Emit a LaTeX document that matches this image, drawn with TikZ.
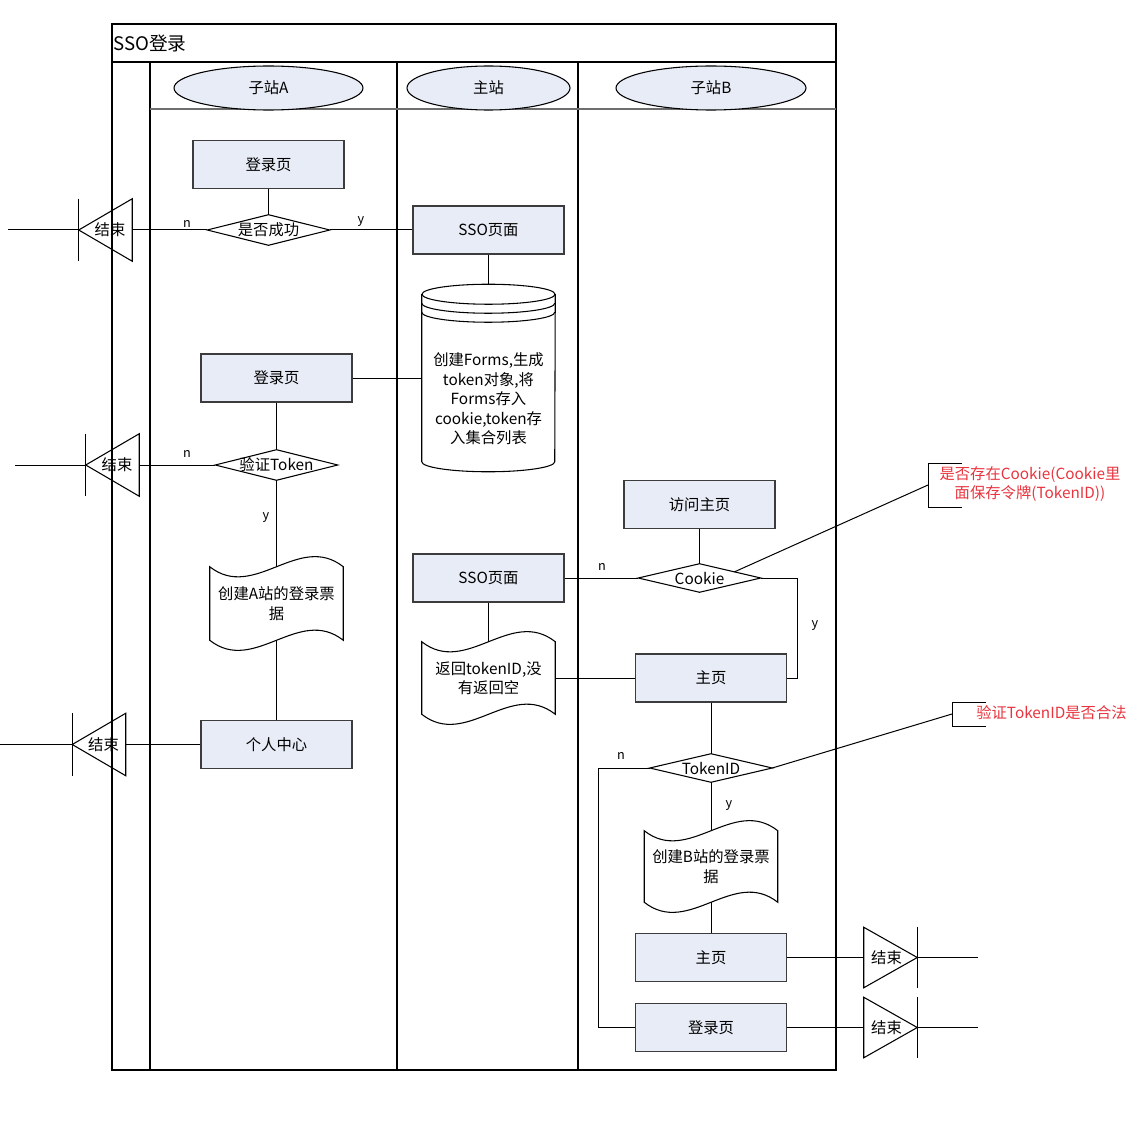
\documentclass[tikz,border=0pt]{standalone}
\usepackage{fontspec}
\setmainfont{Noto Sans CJK SC}
\usetikzlibrary{shapes.geometric,calc}
\definecolor{boxfill}{RGB}{232,236,246}
\definecolor{boxline}{RGB}{60,60,60}
\definecolor{notered}{RGB}{232,52,62}
\definecolor{hdrgray}{RGB}{110,110,110}
\newcommand\wavydoc[1]{%
  \draw[shapeline] (#1.north west) .. controls ($(#1.north west)!1/3!(#1.north east)+(0,35)$) and ($(#1.north west)!2/3!(#1.north east)+(0,-35)$) .. (#1.north east) -- (#1.south east) .. controls ($(#1.south west)!2/3!(#1.south east)+(0,-35)$) and ($(#1.south west)!1/3!(#1.south east)+(0,35)$) .. (#1.south west) -- cycle;}
\newcommand\diamondpath[1]{%
  \draw[shapeline] (#1.west) -- (#1.north) -- (#1.east) -- (#1.south) -- cycle;}
\newcommand\termtriL[1]{%
  \draw[shapeline] (#1.west) -- (#1.north east) -- (#1.south east) -- cycle;
  \draw[conn] (#1.north west) -- (#1.south west);}
\newcommand\termtriR[1]{%
  \draw[shapeline] (#1.east) -- (#1.north west) -- (#1.south west) -- cycle;
  \draw[conn] (#1.north east) -- (#1.south east);}
\begin{document}
\begin{tikzpicture}[x=0.75pt,y=-0.75pt,
  conn/.style={draw=black, line width=0.75pt},
  shapeline/.style={draw=black, line width=0.8pt},
  frame/.style={draw=black, line width=1pt},
  txt/.style={font=\fontsize{11.5}{14.6}\selectfont},
  pbox/.style={rectangle, draw=boxline, fill=boxfill, line width=0.9pt, minimum width=113.25pt, minimum height=36pt, inner sep=0pt, txt},
  hold/.style={rectangle, inner sep=0pt, align=center, txt},
  dsize/.style={minimum width=91.5pt, minimum height=22.5pt},
  tri/.style={minimum width=39.75pt, minimum height=46.5pt},
  trir/.style={minimum width=39.75pt, minimum height=45pt},
  hdr/.style={ellipse, draw=black, fill=boxfill, line width=0.8pt, inner sep=0pt, minimum height=33pt, txt},
  lbl/.style={font=\fontsize{9.5}{11}\selectfont, inner sep=0pt},
  note/.style={text=notered, align=center, inner sep=0pt, txt}]
\useasboundingbox (0,0) rectangle (1130,1123);

% frame and lanes
\draw[frame] (112,24) rectangle (836,1070);
\draw[frame] (112,62) -- (836,62);
\draw[frame] (150,62) -- (150,1070);
\draw[frame] (397,62) -- (397,1070);
\draw[frame] (578,62) -- (578,1070);
\draw[draw=hdrgray, line width=1.3pt] (150,109) -- (836,109);
\node[anchor=west, inner sep=0pt, font=\fontsize{14}{16}\selectfont] (title) at (113,43) {SSO登录};

% lane headers
\node[hdr, minimum width=141.75pt] (hA) at (268.5,88) {子站A};
\node[hdr, minimum width=122.25pt] (hM) at (488.5,88) {主站};
\node[hdr, minimum width=142.5pt] (hB) at (711,88) {子站B};

% process boxes
\node[pbox] (loginA1) at (268.5,164.5) {登录页};
\node[pbox] (ssoM1) at (488.5,230) {SSO页面};
\node[pbox] (loginA2) at (276.5,378) {登录页};
\node[pbox] (personal) at (276.5,744.5) {个人中心};
\node[pbox] (ssoM2) at (488.5,578) {SSO页面};
\node[pbox] (visitB) at (699.5,504.5) {访问主页};
\node[pbox] (homeB1) at (711,678) {主页};
\node[pbox] (homeB2) at (711,957.5) {主页};
\node[pbox] (loginB) at (711,1027.5) {登录页};

% decisions
\node[hold, dsize] (d1) at (268.5,230) {是否成功};
\node[hold, dsize] (d2) at (276.5,465) {验证Token};
\node[hold, dsize, minimum height=21pt] (d3) at (699.5,578) {Cookie};
\node[hold, dsize, minimum height=21pt] (d4) at (711,768) {TokenID};
\diamondpath{d1}
\diamondpath{d2}
\diamondpath{d3}
\diamondpath{d4}

% documents
\node[hold, minimum width=99.75pt, minimum height=54.75pt] (docA) at (276.5,603.5) {创建A站的登录票\\据};
\node[hold, minimum width=99.75pt, minimum height=54pt] (docM) at (488.5,678) {返回tokenID,没\\有返回空};
\node[hold, minimum width=99.75pt, minimum height=53.25pt] (docB) at (711,866.5) {创建B站的登录票\\据};
\wavydoc{docA}
\wavydoc{docM}
\wavydoc{docB}

% database cylinder
\node[hold, minimum width=99.75pt, minimum height=140.25pt] (cyl) at (488.5,378) {};
\draw[shapeline] ($(cyl.north west)+(0,10)$) -- ($(cyl.south west)+(0,-10)$) arc[start angle=180, end angle=360, x radius=49.875pt, y radius=7.5pt] -- ($(cyl.north east)+(0,10)$);
\draw[shapeline] ($(cyl.north)+(0,10)$) ellipse [x radius=49.875pt, y radius=7.5pt];
\draw[shapeline] ($(cyl.north west)+(0,19)$) arc[start angle=180, end angle=360, x radius=49.875pt, y radius=7.5pt];
\draw[shapeline] ($(cyl.north west)+(0,28)$) arc[start angle=180, end angle=360, x radius=49.875pt, y radius=7.5pt];
\node[hold] (cyltxt) at (488.5,399) {创建Forms,生成\\token对象,将\\Forms存入\\cookie,token存\\入集合列表};

% end terminators
\node[hold, tri] (end1) at (105.5,230) {};
\node[hold, tri] (end2) at (112.5,465) {};
\node[hold, tri] (end3) at (99,744.5) {};
\node[hold, trir] (end4) at (890.5,957.5) {};
\node[hold, trir] (end5) at (890.5,1027.5) {};
\termtriL{end1}
\termtriL{end2}
\termtriL{end3}
\termtriR{end4}
\termtriR{end5}
\node[hold] (t1) at (110,230) {结束};
\node[hold] (t2) at (117,465) {结束};
\node[hold] (t3) at (103.5,744.5) {结束};
\node[hold] (t4) at (886.5,957.5) {结束};
\node[hold] (t5) at (886.5,1027.5) {结束};
\coordinate (o1) at (8,230);
\coordinate (o2) at (15,465);
\coordinate (o3) at (0,744.5);
\coordinate (o4) at (978,957.5);
\coordinate (o5) at (978,1027.5);
\draw[conn] (o1) -- (end1.west);
\draw[conn] (o2) -- (end2.west);
\draw[conn] (o3) -- (end3.west);
\draw[conn] (end4.east) -- (o4);
\draw[conn] (end5.east) -- (o5);

% connectors
\draw[conn] (loginA1.south) -- (d1.north);
\draw[conn] (d1.west) -- (end1.east);
\draw[conn] (d1.east) -- (ssoM1.west);
\draw[conn] (ssoM1.south) -- (cyl.north);
\draw[conn] (loginA2.east) -- (cyl.west);
\draw[conn] (loginA2.south) -- (d2.north);
\draw[conn] (d2.west) -- (end2.east);
\draw[conn] (d2.south) -- (docA.north);
\draw[conn] (docA.south) -- (personal.north);
\draw[conn] (personal.west) -- (end3.east);
\draw[conn] (ssoM2.east) -- (d3.west);
\draw[conn] (ssoM2.south) -- (docM.north);
\draw[conn] (docM.east) -- (homeB1.west);
\draw[conn] (visitB.south) -- (d3.north);
\coordinate (yb) at (797,578);
\draw[conn] (d3.east) -- (yb) |- (homeB1.east);
\draw[conn] (homeB1.south) -- (d4.north);
\coordinate (nb) at (598,768);
\draw[conn] (d4.west) -- (nb) |- (loginB.west);
\draw[conn] (d4.south) -- (docB.north);
\draw[conn] (docB.south) -- (homeB2.north);
\draw[conn] (homeB2.east) -- (end4.west);
\draw[conn] (loginB.east) -- (end5.west);

% branch labels
\node[lbl] (l1) at (187,224) {n};
\node[lbl] (l2) at (361,222) {y};
\node[lbl] (l3) at (187,454) {n};
\node[lbl] (l4) at (266,518) {y};
\node[lbl] (l5) at (602,567) {n};
\node[lbl] (l6) at (815,626) {y};
\node[lbl] (l7) at (621,756) {n};
\node[lbl] (l8) at (729,806) {y};

% annotations
\coordinate (br1) at (928,485);
\draw[conn] ($(d3.north)!0.57!(d3.east)$) -- (br1);
\draw[conn] (962,463) -- (928,463) -- (928,507) -- (962,507);
\node[note] (note1) at (1030,484) {是否存在Cookie(Cookie里\\面保存令牌(TokenID))};
\coordinate (br2) at (952,714);
\draw[conn] (d4.east) -- (br2);
\draw[conn] (986,702) -- (952,702) -- (952,726) -- (986,726);
\node[note, anchor=west] (note2) at (976,713) {验证TokenID是否合法};
\end{tikzpicture}
\end{document}
